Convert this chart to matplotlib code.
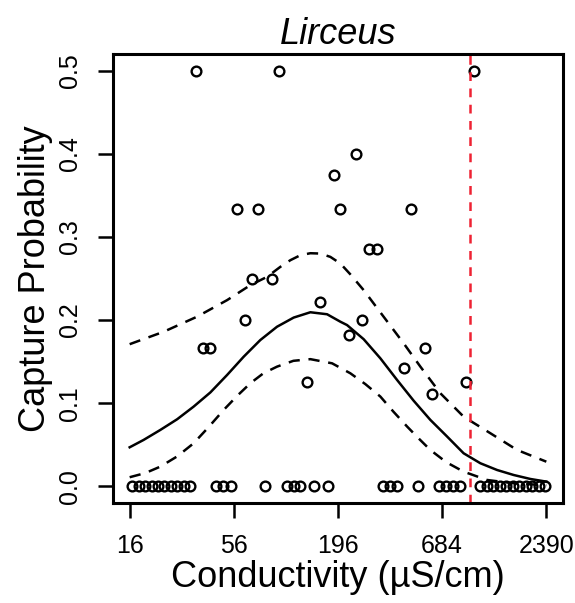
import numpy as np
import matplotlib
matplotlib.use("Agg")
import matplotlib.pyplot as plt

plt.rcParams['font.family'] = ['Liberation Sans', 'DejaVu Sans']

# observed capture probabilities (conductivity, probability)
cond_obs = [16.5, 17.9, 19.3, 20.8, 22.5, 24.3, 26.3, 28.4, 30.7, 33.2,
            45.1, 49.3, 54.3, 81.7, 106.4, 114.8, 124.4, 145.9, 172.7,
            337.2, 366.9, 399.1, 511.8, 661, 719, 782, 850.7,
            1082, 1170, 1265, 1368, 1479, 1599, 1729, 1869, 2021, 2185, 2363,
            35.4, 96.3, 998, 187.2, 58.3, 75.1, 199.5, 241.8, 470.4, 285, 311.2,
            69.3, 88.8, 158.2, 63.7, 38.6, 41.8, 134.8, 262, 222.3, 558.9,
            433.9, 605.5, 914]
prob_obs = [0] * 38 + [0.5, 0.5, 0.5, 0.375, 1/3, 1/3, 1/3, 0.4, 1/3, 2/7, 2/7,
                       0.25, 0.25, 2/9, 0.2, 1/6, 1/6, 1/8, 0.2, 2/11, 1/6,
                       1/7, 1/9, 1/8]

# fitted curve and confidence band
fit_x = [16, 18.9, 23.1, 28.3, 34.5, 42.2, 51.6, 63.0, 76.9, 94.0, 114.8,
         140.3, 171.5, 201.3, 218.0, 266.2, 325.3, 397.6, 485.4, 592.8,
         724.9, 884.7, 1082, 1322, 1613, 1973, 2390]
fit_y = [0.047, 0.0558, 0.0678, 0.0807, 0.0959, 0.113, 0.134, 0.156, 0.176,
         0.192, 0.203, 0.2094, 0.207, 0.198, 0.194, 0.177, 0.154, 0.128,
         0.103, 0.080, 0.060, 0.0398, 0.0278, 0.0197, 0.0137, 0.0089, 0.0057]

upper_x = [16, 24.1, 35.9, 51.6, 68.2, 83.4, 97.8, 110.3, 124.4, 140.3, 158.2,
           178.4, 201.3, 226.8, 266.2, 338.4, 430.5, 526.1, 668.9, 884.7,
           1220, 1681, 2390]
upper_y = [0.171, 0.186, 0.204, 0.224, 0.242, 0.252, 0.264, 0.272, 0.278,
           0.2804, 0.280, 0.276, 0.268, 0.255, 0.236, 0.204, 0.172, 0.144,
           0.112, 0.0838, 0.0639, 0.0438, 0.0297]

lower_x = [16, 19.3, 23.1, 28.3, 34.5, 41.2, 49.5, 58.3, 68.2, 79.8, 94.0,
           114.4, 140.3, 182.1, 226.8, 271.6, 325.3, 380.1, 448.4, 513.7,
           592.8, 719, 884.7, 1172, 1613, 1973, 2390]
lower_y = [0.011, 0.016, 0.0237, 0.036, 0.0518, 0.071, 0.0919, 0.109, 0.124,
           0.136, 0.144, 0.151, 0.153, 0.148, 0.136, 0.123, 0.108, 0.090,
           0.072, 0.058, 0.0438, 0.029, 0.0177, 0.0077, 0.0037, 0.0025, 0.0015]

threshold = 960

xmin, xmax = 16, 2390
xticks = np.exp(np.linspace(np.log(xmin), np.log(xmax), 5))
xticklabels = [str(int(round(t))) for t in xticks]
yticks = [0.0, 0.1, 0.2, 0.3, 0.4, 0.5]

fig = plt.figure(figsize=(5.75, 6.03), dpi=100)
ax = fig.add_axes([113/575, 1 - 503/603, 450/575, 449/603])

ax.plot(fit_x, fit_y, color='black', lw=1.8)
ax.plot(upper_x, upper_y, color='black', lw=1.8, dashes=(4.5, 3.5))
ax.plot(lower_x, lower_y, color='black', lw=1.8, dashes=(4.5, 3.5))
ax.plot(cond_obs, prob_obs, 'o', mfc='none', mec='black', ms=7, mew=1.7)
ax.axvline(threshold, color='#EE2233', lw=1.8, dashes=(3.5, 3))

ax.set_xscale('log')
lx = np.log10([xmin, xmax])
pad = 0.04 * (lx[1] - lx[0])
ax.set_xlim(10 ** (lx[0] - pad), 10 ** (lx[1] + pad))
ax.set_ylim(-0.02, 0.52)
ax.set_xticks(xticks)
ax.set_xticklabels(xticklabels)
ax.xaxis.set_minor_locator(matplotlib.ticker.NullLocator())
ax.set_yticks(yticks)
ax.set_yticklabels(['%.1f' % v for v in yticks], rotation=90, va='center')

ax.tick_params(axis='both', length=11, width=1.8, labelsize=18, pad=11)
for s in ax.spines.values():
    s.set_linewidth(2.2)

ax.set_title('Lirceus', fontsize=26, style='italic', pad=7)
ax.set_xlabel('Conductivity (µS/cm)', fontsize=26, labelpad=2)
ax.set_ylabel('Capture Probability', fontsize=26, labelpad=4)

fig.savefig('out.png', dpi=100)
